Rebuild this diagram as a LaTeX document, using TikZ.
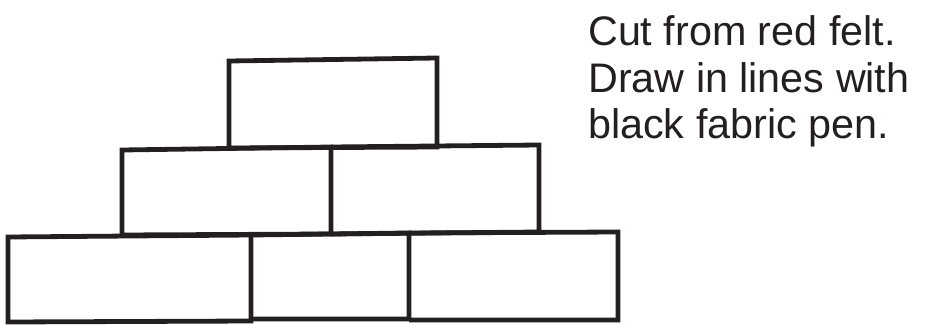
\documentclass[tikz,border=0pt]{standalone}
\usepackage{fontspec}
\setmainfont{Liberation Sans}
\definecolor{ink}{HTML}{231F20}
\begin{document}
\begin{tikzpicture}[x=1pt,y=-1pt,
  brick/.style={draw=ink,line width=4.8pt,line join=miter},
  note/.style={anchor=base west,inner sep=0pt,text=ink,font=\fontsize{41.3}{48}\selectfont}]
\useasboundingbox (0,0) rectangle (926,324);
% top row
\draw[brick] (229,61) -- (437,58) -- (437,147) -- (229,148) -- cycle;
% middle row
\draw[brick] (122,150) -- (331,147) -- (331,234) -- (122,235) -- cycle;
\draw[brick] (331,147) -- (539,145) -- (539,232) -- (331,234);
% bottom row
\draw[brick] (8,237) -- (251,235) -- (251,321) -- (8,322) -- cycle;
\draw[brick] (251,235) -- (409,233) -- (409,319) -- (251,319);
\draw[brick] (409,233) -- (618,232) -- (618,320) -- (409,320);
% text
\node[note] (l1) at (588,45) {Cut from red felt.};
\node[note] (l2) at (588,92) {Draw in lines with};
\node[note] (l3) at (588,138) {black fabric pen.};
\end{tikzpicture}
\end{document}
